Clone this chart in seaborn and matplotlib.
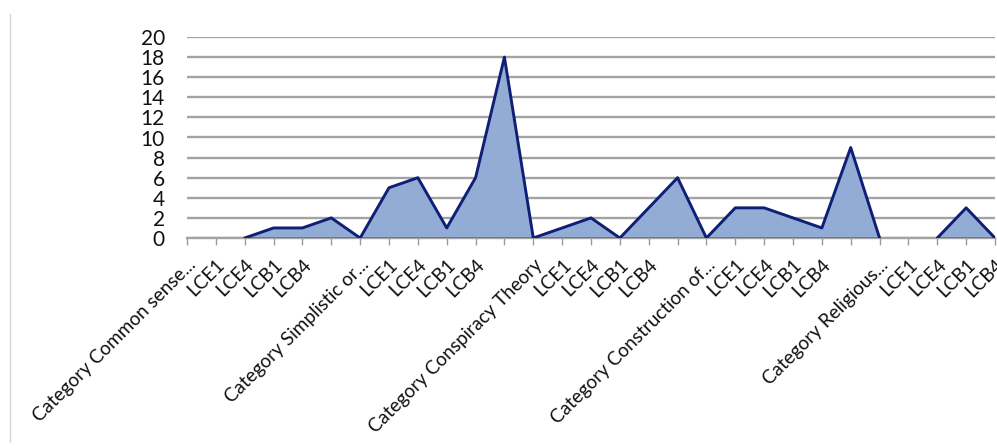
import numpy as np
import pandas as pd
import matplotlib
matplotlib.use("Agg")
import matplotlib.pyplot as plt
from matplotlib.lines import Line2D
import seaborn as sns

# ---- data ----
categories = [
    "Category Common sense...", "LCE1", "LCE4", "LCB1", "LCB4", "",
    "Category Simplistic or...", "LCE1", "LCE4", "LCB1", "LCB4", "",
    "Category Conspiracy Theory", "LCE1", "LCE4", "LCB1", "LCB4", "",
    "Category Construction of...", "LCE1", "LCE4", "LCB1", "LCB4", "",
    "Category Religious...", "LCE1", "LCE4", "LCB1", "LCB4",
]
values = [
    np.nan, np.nan, 0, 1, 1, 2,
    0, 5, 6, 1, 6, 18,
    0, 1, 2, 0, 3, 6,
    0, 3, 3, 2, 1, 9,
    0, np.nan, 0, 3, 0,
]
y_ticks = [0, 2, 4, 6, 8, 10, 12, 14, 16, 18, 20]

sns.set_theme(style="white")
plt.rcParams["font.family"] = ["Lato", "DejaVu Sans"]

df = pd.DataFrame({"pos": np.arange(len(categories)), "value": values})
valid = df["value"].notna()
df["segment"] = (valid != valid.shift()).cumsum()
seg_df = df[valid]

fig = plt.figure(figsize=(9.97, 4.48), dpi=100)
ax = fig.add_axes([187 / 997, 1 - 238 / 448, (995 - 187) / 997, (238 - 37) / 448])

# gridlines
ax.set_ylim(0, 20)
ax.set_yticks(y_ticks)
ax.yaxis.grid(True, color="#a3a3a3", linewidth=1.7, zorder=0)
ax.set_axisbelow(True)

# area fill
ax.fill_between(df["pos"], df["value"], 0, color="#93acd6", linewidth=0, zorder=2)

# bottom baseline of each filled segment
for _, g in seg_df.groupby("segment"):
    ax.plot([g["pos"].min(), g["pos"].max()], [0, 0], color="#2f6fd6", linewidth=1.8, zorder=3)

# top edge line through seaborn
sns.lineplot(data=seg_df, x="pos", y="value", units="segment", estimator=None,
             color="#0f1f75", linewidth=2.1, ax=ax, zorder=4, legend=False)

ax.set_xlim(0, len(categories) - 1)
ax.set_xticks(df["pos"])
ax.set_xticklabels(categories, rotation=45, ha="right", va="top",
                   rotation_mode="anchor", fontsize=13.6, color="#111111")
ax.set_yticklabels([str(t) for t in y_ticks], fontsize=15, color="#111111")
ax.tick_params(axis="x", which="major", direction="out", length=5, width=1,
               color="#9a9a9a", pad=8, bottom=True)
ax.tick_params(axis="y", length=0, pad=16)
ax.set_xlabel("")
ax.set_ylabel("")

for side in ["left", "right", "top"]:
    ax.spines[side].set_visible(False)
ax.spines["bottom"].set_color("#a3a3a3")
ax.spines["bottom"].set_linewidth(1.7)
ax.spines["bottom"].set_zorder(1)

# thin frame line at left of image
fig.add_artist(Line2D([10 / 997, 10 / 997], [1 - 14 / 448, 1 - 442 / 448],
                      transform=fig.transFigure, color="#d6d6d6", linewidth=1))

fig.savefig("out.png", dpi=100)
